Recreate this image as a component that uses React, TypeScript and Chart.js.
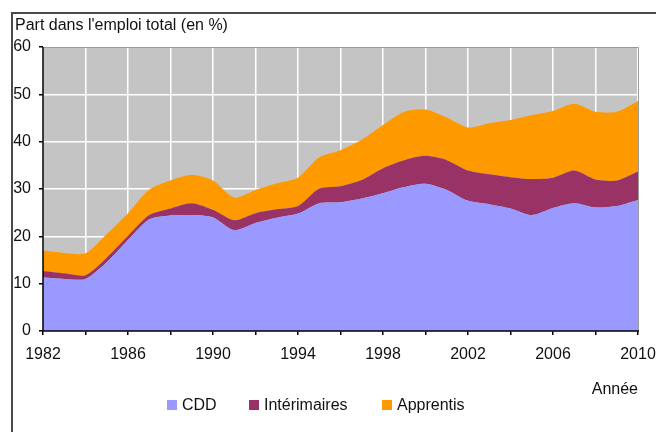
import React, { useEffect, useRef } from "react";
import { Chart, registerables } from "chart.js";

Chart.register(...registerables);

const years = [1982, 1983, 1984, 1985, 1986, 1987, 1988, 1989, 1990, 1991, 1992, 1993, 1994, 1995, 1996, 1997, 1998, 1999, 2000, 2001, 2002, 2003, 2004, 2005, 2006, 2007, 2008, 2009, 2010];
const cdd = [11.3, 11.0, 11.0, 14.5, 19.2, 23.6, 24.4, 24.5, 24.0, 21.3, 22.8, 23.9, 24.8, 27.0, 27.2, 28.0, 29.1, 30.4, 31.1, 29.8, 27.5, 26.8, 25.9, 24.5, 26.0, 27.0, 26.1, 26.4, 27.7];
const interimaires = [1.4, 1.2, 0.8, 1.0, 0.9, 0.9, 1.5, 2.5, 1.6, 2.1, 2.1, 1.8, 1.6, 3.1, 3.4, 3.9, 5.3, 5.7, 5.9, 6.3, 6.4, 6.3, 6.6, 7.6, 6.4, 6.9, 5.9, 5.4, 6.0];
const apprentis = [4.3, 4.3, 4.6, 5.0, 4.8, 5.4, 5.9, 6.0, 6.2, 4.8, 4.9, 5.5, 6.0, 6.6, 7.6, 8.5, 9.1, 10.2, 9.8, 9.0, 9.1, 10.8, 12.1, 13.5, 14.1, 14.1, 14.3, 14.5, 14.9];
const seriesNames = ["CDD", "Intérimaires", "Apprentis"];
const seriesColors = ["#9999FF", "#993366", "#FF9900"];
const yTicks = [0, 10, 20, 30, 40, 50, 60];
const titleText = "Part dans l'emploi total (en %)";
const xTitle = "Année";

const FONT = "'Liberation Sans', Arial, sans-serif";

export default function App() {
  const ref = useRef<HTMLCanvasElement | null>(null);
  useEffect(() => {
    const canvas = ref.current;
    if (!canvas) return;
    const decor = {
      id: "decor",
      beforeDraw(chart: any) {
        const { ctx, chartArea: a } = chart;
        ctx.save();
        ctx.fillStyle = "#ffffff";
        ctx.fillRect(0, 0, chart.width, chart.height);
        ctx.fillStyle = "#C4C4C4";
        ctx.fillRect(a.left, a.top, a.right - a.left, a.bottom - a.top);
        ctx.restore();
      },
      afterDraw(chart: any) {
        const { ctx, chartArea: a } = chart;
        ctx.save();
        // frame
        ctx.strokeStyle = "#4a4a4a";
        ctx.lineWidth = 2;
        ctx.beginPath();
        ctx.moveTo(12, chart.height);
        ctx.lineTo(12, 13);
        ctx.lineTo(chart.width, 13);
        ctx.stroke();
        // plot border top/right
        ctx.strokeStyle = "#9a9a9a";
        ctx.lineWidth = 1;
        ctx.beginPath();
        ctx.moveTo(a.left, a.top + 0.5);
        ctx.lineTo(a.right + 0.5, a.top + 0.5);
        ctx.lineTo(a.right + 0.5, a.bottom);
        ctx.stroke();
        // axes
        ctx.strokeStyle = "#000";
        ctx.lineWidth = 1.5;
        ctx.beginPath();
        ctx.moveTo(a.left, a.top);
        ctx.lineTo(a.left, a.bottom);
        ctx.lineTo(a.right + 1, a.bottom);
        ctx.stroke();
        // title
        ctx.fillStyle = "#111";
        ctx.font = `16px ${FONT}`;
        ctx.textBaseline = "alphabetic";
        ctx.textAlign = "left";
        ctx.fillText(titleText, 15, 30);
        // x title
        ctx.textAlign = "right";
        ctx.fillText(xTitle, 638, 394);
        // legend
        const lx = [167, 249, 382];
        ctx.textAlign = "left";
        seriesNames.forEach((n, i) => {
          ctx.fillStyle = seriesColors[i];
          ctx.fillRect(lx[i], 400, 10, 10);
          ctx.fillStyle = "#111";
          ctx.fillText(n, lx[i] + 15, 410);
        });
        ctx.restore();
      },
    };
    const mk = (data: number[]) => years.map((y, i) => ({ x: y, y: data[i] }));
    const chart = new Chart(canvas, {
      type: "line",
      data: {
        datasets: [cdd, interimaires, apprentis].map((d, i) => ({
          label: seriesNames[i],
          data: mk(d),
          backgroundColor: seriesColors[i],
          borderColor: seriesColors[i],
          borderWidth: 0,
          pointRadius: 0,
          tension: 0.25,
          fill: i === 0 ? "origin" : "-1",
        })),
      },
      options: {
        animation: false,
        responsive: false,
        devicePixelRatio: 1,
        layout: { padding: { left: 0, top: 47, right: 18, bottom: 0 } },
        plugins: { legend: { display: false }, title: { display: false }, tooltip: { enabled: false } },
        scales: {
          x: {
            type: "linear",
            min: 1982,
            max: 2010,
            border: { display: false },
            grid: { color: "#ffffff", lineWidth: 1.5, tickColor: "#000", tickLength: 4, drawOnChartArea: true },
            ticks: {
              stepSize: 2,
              autoSkip: false,
              maxRotation: 0,
              padding: 10,
              color: "#111",
              font: { family: FONT, size: 16 },
              callback: (v: any) => ((Number(v) - 1982) % 4 === 0 ? String(v) : ""),
            },
            afterFit: (s: any) => { s.height = 101; s.paddingRight = 0; s.paddingLeft = 0; },
          },
          y: {
            stacked: true,
            min: 0,
            max: 60,
            border: { display: false },
            grid: { color: "#ffffff", lineWidth: 1.5, tickColor: "#000", tickLength: 4 },
            afterBuildTicks: (s: any) => { s.ticks = yTicks.map((v) => ({ value: v })); },
            ticks: { padding: 8, color: "#111", font: { family: FONT, size: 16 } },
            afterFit: (s: any) => { s.width = 43; s.paddingTop = 0; s.paddingBottom = 0; },
          },
        },
      },
      plugins: [decor],
    } as any);
    return () => chart.destroy();
  }, []);
  return (
    <div style={{ position: "absolute", left: 0, top: 0, width: 656, height: 432 }}>
      <canvas ref={ref} width={656} height={432} style={{ display: "block" }} />
    </div>
  );
}
